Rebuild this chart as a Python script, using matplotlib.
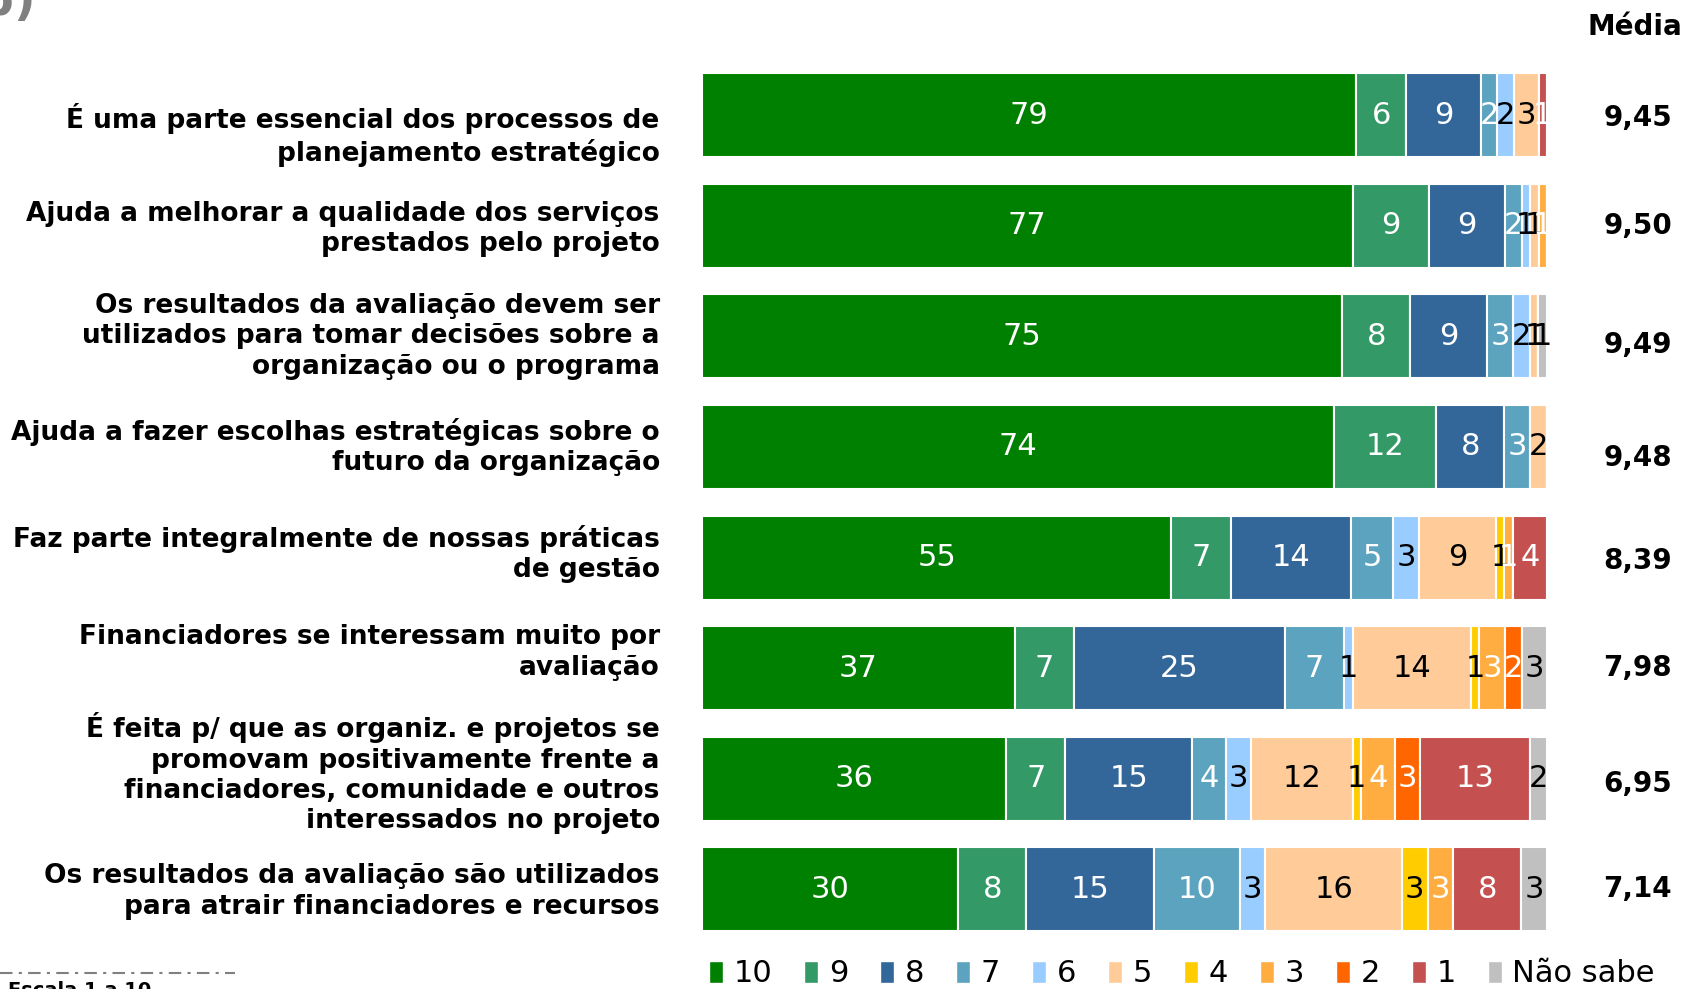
import matplotlib.pyplot as plt
from matplotlib.patches import Patch
import numpy as np

plt.rcParams['font.family'] = ['DejaVu Sans']

questions = [
    "É uma parte essencial dos processos de\nplanejamento estratégico",
    "Ajuda a melhorar a qualidade dos serviços\nprestados pelo projeto",
    "Os resultados da avaliação devem ser\nutilizados para tomar decisões sobre a\norganização ou o programa",
    "Ajuda a fazer escolhas estratégicas sobre o\nfuturo da organização",
    "Faz parte integralmente de nossas práticas\nde gestão",
    "Financiadores se interessam muito por\navaliação",
    "É feita p/ que as organiz. e projetos se\npromovam positivamente frente a\nfinanciadores, comunidade e outros\ninteressados no projeto",
    "Os resultados da avaliação são utilizados\npara atrair financiadores e recursos",
]
categories = ["10", "9", "8", "7", "6", "5", "4", "3", "2", "1", "Não sabe"]
colors = ["#008000", "#339966", "#336699", "#5BA3BE", "#99CCFF", "#FFCC99",
          "#FFCC00", "#FFAD40", "#FF6600", "#C4504F", "#C0C0C0"]
text_colors = ["white", "white", "white", "white", "black", "black",
               "black", "white", "white", "white", "black"]

# percent per answer, rows in question order, columns in category order
values = np.array([
    [79, 6, 9, 2, 2, 3, 0, 0, 0, 1, 0],
    [77, 9, 9, 2, 1, 1, 0, 1, 0, 0, 0],
    [75, 8, 9, 3, 2, 1, 0, 0, 0, 0, 1],
    [74, 12, 8, 3, 0, 2, 0, 0, 0, 0, 0],
    [55, 7, 14, 5, 3, 9, 1, 1, 0, 4, 0],
    [37, 7, 25, 7, 1, 14, 1, 3, 2, 0, 3],
    [36, 7, 15, 4, 3, 12, 1, 4, 3, 13, 2],
    [30, 8, 15, 10, 3, 16, 3, 3, 0, 8, 3],
], dtype=float)
media = ["9,45", "9,50", "9,49", "9,48", "8,39", "7,98", "6,95", "7,14"]

# small vertical nudges of the side texts (rows)
label_dy = [0.18, 0.03, 0.0, 0.0, -0.03, -0.14, -0.05, 0.02]
media_dy = [0.03, 0.0, 0.08, 0.1, 0.03, 0.0, 0.05, 0.0]

fig = plt.figure(figsize=(16.84, 9.89), dpi=100)
ax = fig.add_axes([702 / 1684, 0, 845 / 1684, 1])

shares = values / values.sum(axis=1, keepdims=True) * 100
y = np.arange(len(questions))
left = np.zeros(len(questions))
for j, cat in enumerate(categories):
    w = shares[:, j]
    ax.barh(y, w, left=left, height=0.76, color=colors[j],
            edgecolor="white", linewidth=1.5)
    for i in range(len(questions)):
        if values[i, j] > 0:
            ax.text(left[i] + w[i] / 2, y[i], "%d" % values[i, j],
                    ha="center", va="center", fontsize=22,
                    color=text_colors[j])
    left += w

for i, q in enumerate(questions):
    ax.text(-5.0, y[i] + label_dy[i], q, ha="right", va="center",
            fontsize=19, fontweight="bold", linespacing=1.22)
    ax.text(114.8, y[i] + media_dy[i], media[i], ha="right", va="center",
            fontsize=20, fontweight="bold")
ax.text(110.4, -0.80, "Média", ha="center", va="center",
        fontsize=20, fontweight="bold")

ax.set_xlim(0, 100)
ax.set_ylim(7.90, -1.04)
ax.axis("off")

handles = [Patch(facecolor=c, edgecolor="white") for c in colors]
fig.legend(handles, categories, loc="center", bbox_to_anchor=(1182 / 1684, 1 - 974 / 989),
           ncol=len(categories), frameon=False, fontsize=22,
           handlelength=0.45, handleheight=0.7, handletextpad=0.35,
           columnspacing=1.05)

# cut-off bits at the page edges
fig.text(-0.012, 1.02, "b)", fontsize=34, fontweight="bold", color="#808080",
         ha="left", va="top")
fig.add_artist(plt.Line2D([0, 235 / 1684], [1 - 973 / 989, 1 - 973 / 989],
                          color="#808080", linewidth=1.5, linestyle="-.",
                          dashes=(6, 3, 1.5, 3)))
fig.text(8 / 1684, 1 - 981 / 989, "Escala 1 a 10", fontsize=14,
         fontweight="bold", ha="left", va="top")

fig.savefig("out.png", dpi=100)
